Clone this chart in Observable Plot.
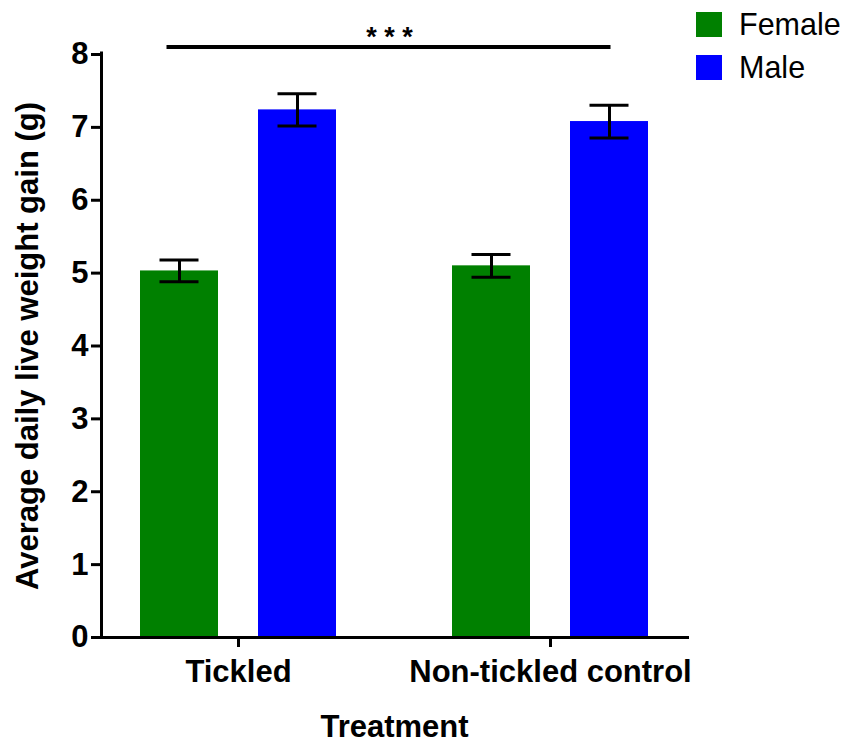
<!DOCTYPE html>
<html>
<head>
<meta charset="utf-8">
<script src="https://cdn.jsdelivr.net/npm/d3@7"></script>
<script src="https://cdn.jsdelivr.net/npm/@observablehq/plot@0.6"></script>
<style>
  html, body { margin: 0; padding: 0; background: #fff; }
  #wrap { position: relative; width: 843px; height: 742px; font-family: "Liberation Sans", Arial, sans-serif; }
  #legend { position: absolute; left: 696px; top: 12px; }
  .item { display: flex; align-items: center; height: 25px; margin-bottom: 18px; font-size: 30.5px; color: #000; }
  .sw { width: 26px; height: 25px; margin-right: 17px; }
</style>
</head>
<body>
<div id="wrap"><div id="legend"></div></div>
<script>
// ---- data ----
const treatments = ["Tickled", "Non-tickled control"];
const sexes = ["Female", "Male"];
const femaleMean = [5.03, 5.10];
const femaleSE = [0.15, 0.155];
const maleMean = [7.24, 7.08];
const maleSE = [0.22, 0.225];
const colors = ["#008000", "#0000ff"];
const yTicks = [0, 1, 2, 3, 4, 5, 6, 7, 8];
const sigLabel = "* * *";
const xLabel = "Treatment";
const yLabel = "Average daily live weight gain (g)";

const rows = [];
treatments.forEach((t, i) => {
  rows.push({treatment: t, sex: sexes[0], mean: femaleMean[i], se: femaleSE[i]});
  rows.push({treatment: t, sex: sexes[1], mean: maleMean[i], se: maleSE[i]});
});

const font = {fontSize: 31, fontWeight: "bold"};

const chart = Plot.plot({
  width: 843,
  height: 742,
  marginLeft: 101,
  marginRight: 156,
  marginTop: 54,
  marginBottom: 105,
  style: {fontFamily: "'Liberation Sans', Arial, sans-serif", background: "#fff", color: "#000"},
  fx: {domain: treatments, paddingInner: 0.1218, paddingOuter: 0},
  x: {domain: sexes, paddingInner: 0.339, paddingOuter: 0.3305, axis: null},
  y: {domain: [0, 8]},
  color: {domain: sexes, range: colors},
  marks: [
    Plot.barY(rows, {fx: "treatment", x: "sex", y: "mean", fill: "sex"}),
    Plot.ruleX(rows, {fx: "treatment", x: "sex", y1: d => d.mean - d.se, y2: d => d.mean + d.se, stroke: "#000", strokeWidth: 3}),
    Plot.tickY(rows, {fx: "treatment", x: "sex", y: d => d.mean + d.se, stroke: "#000", strokeWidth: 3, insetLeft: 19.5, insetRight: 19.5}),
    Plot.tickY(rows, {fx: "treatment", x: "sex", y: d => d.mean - d.se, stroke: "#000", strokeWidth: 3, insetLeft: 19.5, insetRight: 19.5}),
    Plot.frame({anchor: "left", facet: "super", stroke: "#000", strokeWidth: 3, insetTop: -1.5}),
    Plot.frame({anchor: "bottom", facet: "super", stroke: "#000", strokeWidth: 3, insetLeft: -1.5}),
    Plot.frame({anchor: "top", facet: "super", stroke: "#000", strokeWidth: 4, insetTop: -7.5, insetLeft: 67, insetRight: 79}),
    Plot.text([sigLabel], {facet: "super", frameAnchor: "top", dy: -28, dx: -5, fontSize: 27, fontWeight: "bold", fill: "#000"}),
    Plot.axisY({ticks: yTicks, tickSize: 10, tickPadding: 3, strokeWidth: 3, ...font,
      label: yLabel, labelAnchor: "center", labelOffset: 86, labelArrow: "none"}),
    Plot.axisFx({anchor: "bottom", tickSize: 10, tickPadding: 12, strokeWidth: 3, ...font,
      label: xLabel, labelAnchor: "center", labelOffset: 99, labelArrow: "none"})
  ]
});

const wrap = document.getElementById("wrap");
wrap.insertBefore(chart, wrap.firstChild);

const legend = document.getElementById("legend");
sexes.forEach((s, i) => {
  const it = document.createElement("div");
  it.className = "item";
  const sw = document.createElement("div");
  sw.className = "sw";
  sw.style.background = colors[i];
  const tx = document.createElement("span");
  tx.textContent = s;
  it.appendChild(sw);
  it.appendChild(tx);
  legend.appendChild(it);
});
</script>
</body>
</html>
